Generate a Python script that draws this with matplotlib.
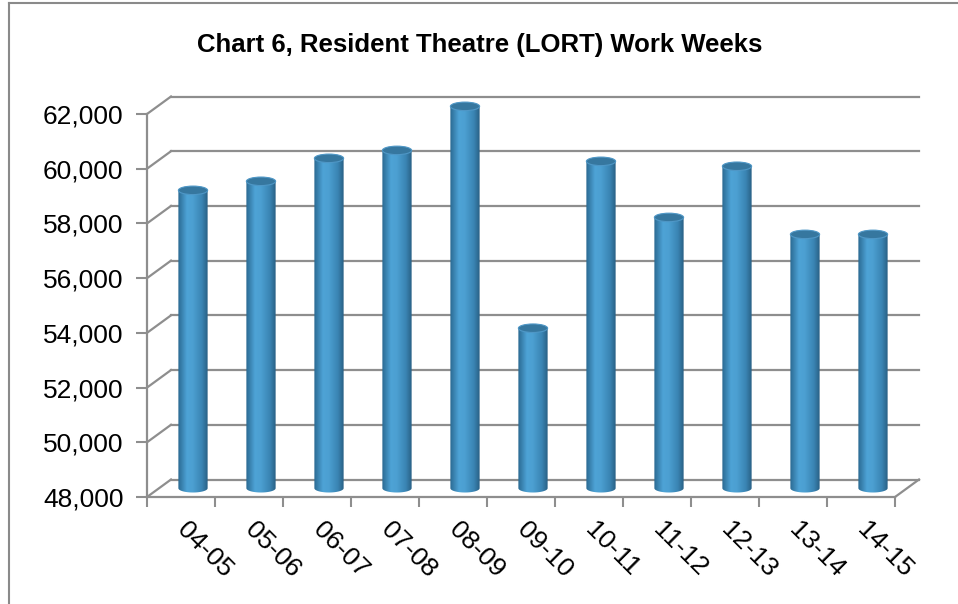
import numpy as np
import matplotlib
matplotlib.use("Agg")
import matplotlib.pyplot as plt
from matplotlib.patches import Ellipse, PathPatch
from matplotlib.path import Path
from matplotlib.lines import Line2D
from matplotlib.colors import LinearSegmentedColormap

seasons = ["04-05", "05-06", "06-07", "07-08", "08-09", "09-10",
           "10-11", "11-12", "12-13", "13-14", "14-15"]
work_weeks = [58890, 59220, 60060, 60350, 61960, 53850,
              59950, 57900, 59770, 57280, 57280]
y_ticks = [48000, 50000, 52000, 54000, 56000, 58000, 60000, 62000]
title = "Chart 6, Resident Theatre (LORT) Work Weeks"

plt.rcParams['font.family'] = ['Liberation Sans', 'DejaVu Sans']

grid_col = '#8e8e8e'
cyl = LinearSegmentedColormap.from_list(
    'cyl', [(0.0, '#2a6890'), (0.3, '#4ea3d6'), (0.5, '#4c9fd1'),
            (0.8, '#3a84b3'), (1.0, '#285f83')])

W, H = 958, 604
fig = plt.figure(figsize=(W / 100, H / 100), dpi=100)
ax = fig.add_axes([147 / W, 107 / H, 748 / W, 383 / H])
ymin, ymax = y_ticks[0], y_ticks[-1]

# depth of the fake 3d box, from pixels to data units
px_x = 748 / len(seasons)
px_y = 383 / (ymax - ymin)
dx = 24 / px_x
dy = 17.5 / px_y

# back wall gridlines and left wall diagonals
for v in y_ticks:
    ax.plot([-0.5 + dx, len(seasons) - 0.5 + dx], [v + dy, v + dy],
            color=grid_col, lw=1.6, clip_on=False, zorder=1)
    ax.plot([-0.5, -0.5 + dx], [v, v + dy], color=grid_col, lw=1.6,
            clip_on=False, zorder=1)
ax.plot([len(seasons) - 0.5, len(seasons) - 0.5 + dx], [ymin, ymin + dy],
        color=grid_col, lw=1.6, clip_on=False, zorder=1)

# cylinders, standing at mid depth
bw = 0.43
eh = 8.5 / px_y
base = ymin + dy / 2
grad = np.linspace(0, 1, 256).reshape(1, -1)
for i, val in enumerate(work_weeks):
    cx = i + dx / 2
    top = val + dy / 2
    th = np.linspace(np.pi, 2 * np.pi, 40)
    pts = list(zip(cx + bw / 2 * np.cos(th), base + eh / 2 * np.sin(th)))
    pts += [(cx + bw / 2, top), (cx - bw / 2, top), pts[0]]
    body = PathPatch(Path(pts, closed=True), facecolor='none',
                     edgecolor='none', transform=ax.transData)
    ax.add_patch(body)
    im = ax.imshow(grad, cmap=cyl, aspect='auto', zorder=3,
                   extent=[cx - bw / 2, cx + bw / 2, base - eh / 2, top],
                   interpolation='bilinear')
    im.set_clip_path(body)
    im.set_clip_box(fig.bbox)
    ax.add_patch(Ellipse((cx, top), bw, eh, facecolor='#36779f',
                         edgecolor='#4f97c6', lw=0.8, zorder=4,
                         clip_on=False))

ax.set_xlim(-0.5, len(seasons) - 0.5)
ax.set_ylim(ymin, ymax)

for s in ['top', 'right']:
    ax.spines[s].set_visible(False)
for s in ['left', 'bottom']:
    ax.spines[s].set_color(grid_col)
    ax.spines[s].set_linewidth(1.6)
    ax.spines[s].set_zorder(2)

ax.set_yticks(y_ticks)
ax.set_yticklabels([f"{v:,}" for v in y_ticks], fontsize=19)
ax.tick_params(axis='y', length=8, width=1.5, color=grid_col, pad=9)

ax.set_xticks(range(len(seasons)))
ax.set_xticklabels(seasons, rotation=-45, ha='left', va='center',
                   rotation_mode='anchor', fontsize=19)
ax.set_xticks(np.arange(-0.5, len(seasons)), minor=True)
ax.tick_params(axis='x', which='major', length=0, pad=21)
ax.tick_params(axis='x', which='minor', length=7, width=1.5, color=grid_col)

fig.text(480 / W, 1 - 45 / H, title, ha='center', va='center',
         fontsize=18.5, fontweight='bold')

# outer chart border (left and top visible)
fig.add_artist(Line2D([8.5 / W, 8.5 / W], [0, 1 - 2.5 / H],
                      transform=fig.transFigure, color='#8a8a8a', lw=1.5))
fig.add_artist(Line2D([8.5 / W, 1], [1 - 2.5 / H, 1 - 2.5 / H],
                      transform=fig.transFigure, color='#8a8a8a', lw=1.5))

fig.savefig('out.png', dpi=100)
